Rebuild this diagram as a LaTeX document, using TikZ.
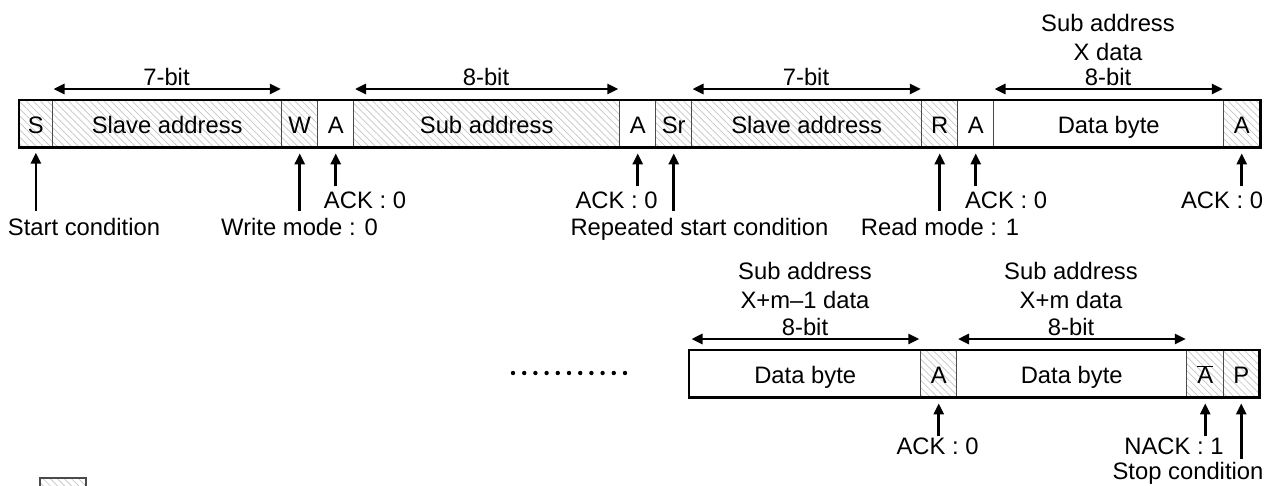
\documentclass[tikz,border=0pt]{standalone}
\usepackage{fontspec}
\setmainfont{Liberation Sans}
\usetikzlibrary{arrows.meta,patterns.meta}
\newcommand\lblfont{\fontsize{23.8}{27}\selectfont}
\definecolor{divgray}{HTML}{4A4A4A}
\definecolor{hatchgray}{HTML}{C4C4C4}
\begin{document}
\begin{tikzpicture}[x=1pt,y=-1pt,
  cell/.style={draw=divgray, line width=1.4pt, minimum width=#1pt, minimum height=46pt,
    inner sep=0pt, anchor=north west, font=\lblfont, text height=20pt, text depth=0pt},
  hatch/.style={pattern={Lines[angle=135,distance=5pt,line width=0.7pt]}, pattern color=hatchgray},
  outer/.style={draw=black, line width=2.6pt},
  dim/.style={line width=2.6pt, {Triangle[length=11pt,width=10pt]}-{Triangle[length=11pt,width=10pt]}},
  up/.style={line width=2.6pt, -{Triangle[length=11pt,width=10pt]}},
  lbl/.style={font=\lblfont, anchor=base, inner sep=0pt}]
\useasboundingbox (0,0) rectangle (1267,485);
% ---- row 1
\node[cell=33,hatch]  (S)   at (19,100)  {S};
\node[cell=229,hatch] (SA1) at (52,100)  {Slave address};
\node[cell=36,hatch]  (W)   at (281,100) {W};
\node[cell=36]        (A1)  at (317,100) {A};
\node[cell=266,hatch] (Sub) at (353,100) {Sub address};
\node[cell=36]        (A2)  at (619,100) {A};
\node[cell=36,hatch]  (Sr)  at (655,100) {Sr};
\node[cell=230,hatch] (SA2) at (691,100) {Slave address};
\node[cell=36,hatch]  (R)   at (921,100) {R};
\node[cell=36]        (A3)  at (957,100) {A};
\node[cell=230]       (D1)  at (993,100) {Data byte};
\node[cell=36,hatch]  (A4)  at (1223,100) {A};
\draw[outer] (S.north west) rectangle (A4.south east);
% ---- row 2
\node[cell=231]       (D2)  at (689,350)  {Data byte};
\node[cell=36,hatch]  (A5)  at (920,350)  {A};
\node[cell=230]       (D3)  at (956,350)  {Data byte};
\node[cell=37,hatch]  (NA)  at (1186,350) {$\overline{\mbox{A}}$};
\node[cell=35,hatch]  (P)   at (1223,350) {P};
\draw[outer] (D2.north west) rectangle (P.south east);
% ---- bit-width arrows
\draw[dim] ([xshift=1.5pt,yshift=11pt]SA1.north west) -- ([xshift=-1.5pt,yshift=11pt]SA1.north east);
\draw[dim] ([xshift=2pt,yshift=11pt]Sub.north west) -- ([xshift=-2pt,yshift=11pt]Sub.north east);
\draw[dim] ([xshift=1.5pt,yshift=11pt]SA2.north west) -- ([xshift=-1.5pt,yshift=11pt]SA2.north east);
\draw[dim] ([xshift=1.5pt,yshift=11pt]D1.north west) -- ([xshift=-1.5pt,yshift=11pt]D1.north east);
\draw[dim] ([xshift=2.5pt,yshift=11pt]D2.north west) -- ([xshift=-2pt,yshift=11pt]D2.north east);
\draw[dim] ([xshift=2pt,yshift=11pt]D3.north west) -- ([xshift=-1.5pt,yshift=11pt]D3.north east);
\node[lbl] (b1) at (166.5,85) {7-bit};
\node[lbl] (b2) at (486,85) {8-bit};
\node[lbl] (b3) at (806,85) {7-bit};
\node[lbl] (b4a) at (1108,31) {Sub address};
\node[lbl] (b4b) at (1108,60) {X data};
\node[lbl] (b4c) at (1108,85) {8-bit};
\node[lbl] (b5a) at (805,279) {Sub address};
\node[lbl] (b5b) at (805,308) {X+m–1 data};
\node[lbl] (b5c) at (805,335) {8-bit};
\node[lbl] (b6a) at (1071,279) {Sub address};
\node[lbl] (b6b) at (1071,308) {X+m data};
\node[lbl] (b6c) at (1071,335) {8-bit};
% ---- pointer arrows
\draw[up] ([yshift=-64pt]S.south) -- ([yshift=-6pt]S.south);
\draw[up] ([yshift=-64pt]W.south) -- ([yshift=-6pt]W.south);
\draw[up] ([yshift=-39pt]A1.south) -- ([yshift=-6pt]A1.south);
\draw[up] ([yshift=-39pt]A2.south) -- ([yshift=-6pt]A2.south);
\draw[up] ([yshift=-64pt]Sr.south) -- ([yshift=-6pt]Sr.south);
\draw[up] ([yshift=-64pt]R.south) -- ([yshift=-6pt]R.south);
\draw[up] ([yshift=-39pt]A3.south) -- ([yshift=-6pt]A3.south);
\draw[up] ([yshift=-39pt]A4.south) -- ([yshift=-6pt]A4.south);
\draw[up] ([yshift=-39pt]A5.south) -- ([yshift=-6pt]A5.south);
\draw[up] ([yshift=-39pt]NA.south) -- ([yshift=-6pt]NA.south);
\draw[up] ([yshift=-62pt]P.south) -- ([yshift=-6pt]P.south);
\node[lbl] (lS)  at (84,235)    {Start condition};
\node[lbl] (lW)  at (299.5,235) {Write mode : 0};
\node[lbl] (lA1) at (365,208)   {ACK : 0};
\node[lbl] (lA2) at (616.5,208) {ACK : 0};
\node[lbl] (lSr) at (699.5,235) {Repeated start condition};
\node[lbl] (lR)  at (940,235)   {Read mode : 1};
\node[lbl] (lA3) at (1006,208)  {ACK : 0};
\node[lbl] (lA4) at (1222,208)  {ACK : 0};
\node[lbl] (lA5) at (937.5,454) {ACK : 0};
\node[lbl] (lNA) at (1174,454)  {NACK : 1};
\node[lbl] (lP)  at (1188,479)  {Stop condition};
% ---- continuation dots
\foreach \i in {0,...,10} \fill (513+\i*11.2,373) circle (2.2pt);
% ---- legend swatch (cut by the page edge)
\draw[draw=divgray,line width=1.4pt,hatch] (40,478) rectangle (86,510);
\end{tikzpicture}
\end{document}
